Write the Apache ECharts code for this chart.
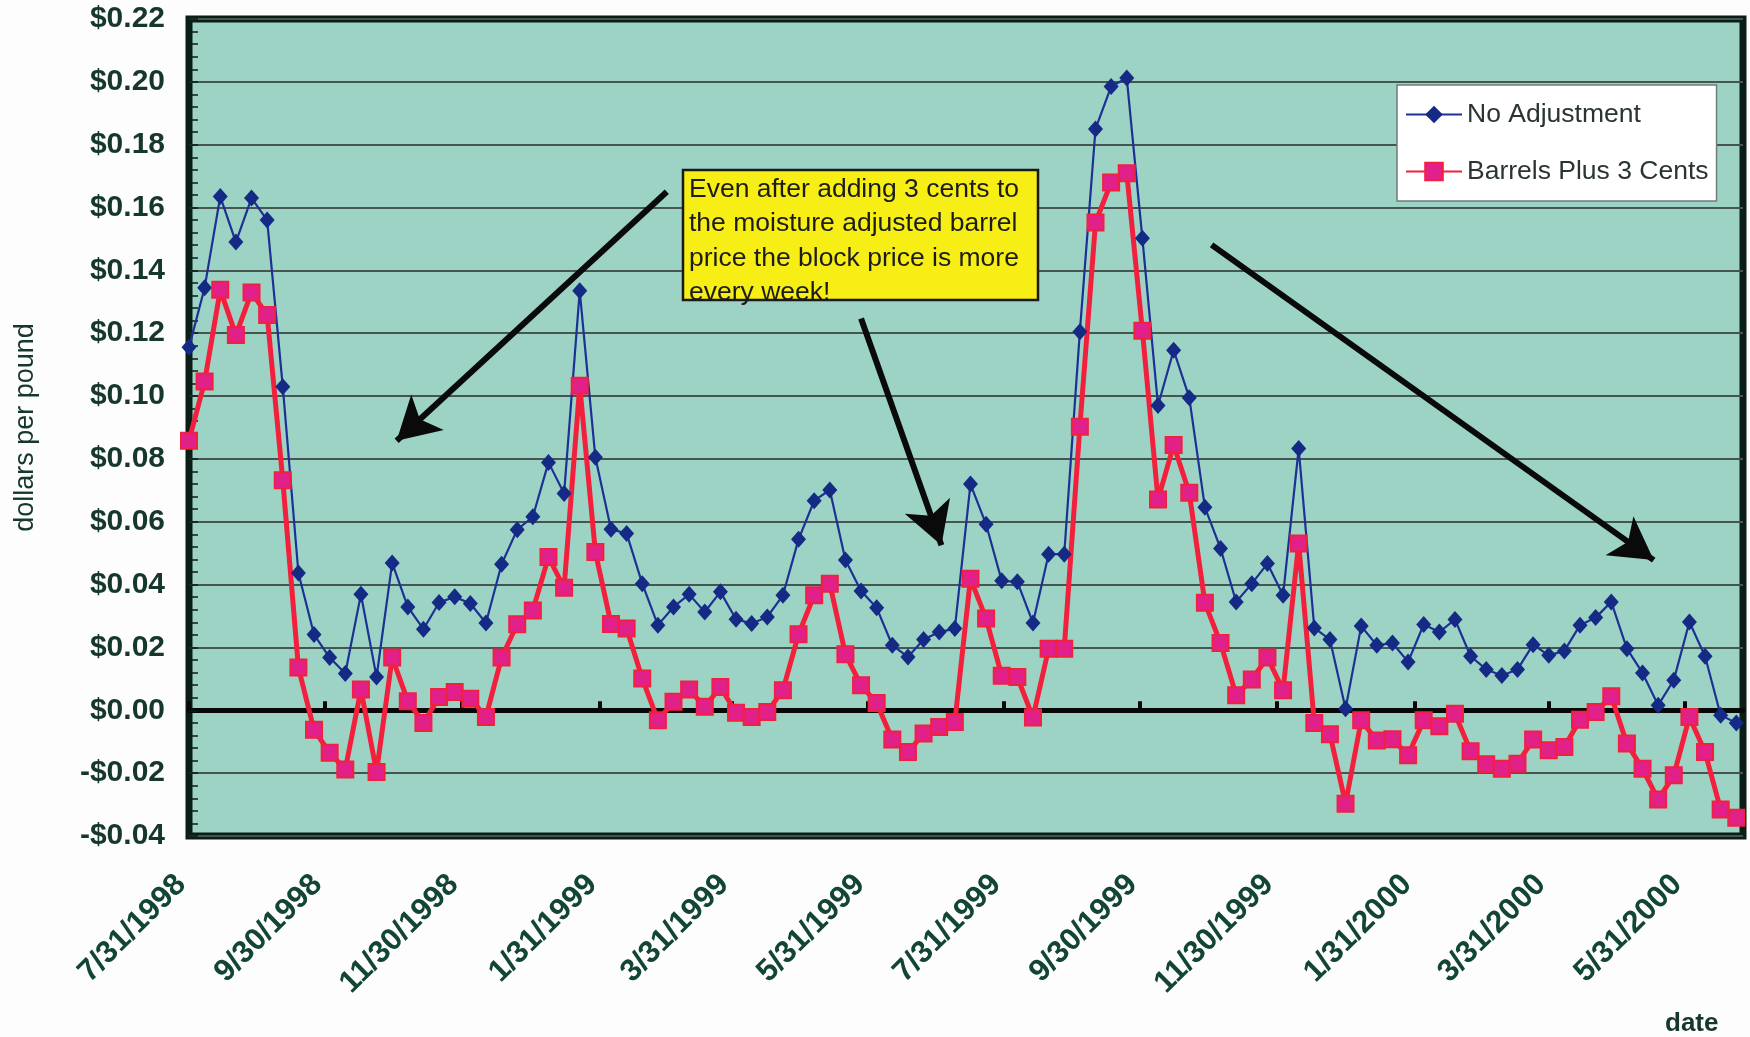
<!DOCTYPE html>
<html>
<head>
<meta charset="utf-8">
<title>Block vs barrel price difference</title>
<script src="https://cdn.jsdelivr.net/npm/echarts@6/dist/echarts.min.js"></script>
<style>
  html, body { margin: 0; padding: 0; background: #fdfdfd; }
  #chart { width: 1750px; height: 1037px; }
</style>
</head>
<body>
<div id="chart"></div>
<script>
// weekly observations starting on this Friday
const firstWeek = '1998-07-31';
const weekCount = 100;

const noAdjustment = [
  0.1155, 0.1345, 0.1635, 0.149, 0.163, 0.156, 0.103, 0.0437, 0.0241, 0.0168,
  0.0117, 0.0369, 0.0106, 0.0469, 0.0329, 0.0258, 0.0343, 0.0361, 0.034, 0.0278,
  0.0465, 0.0575, 0.0616, 0.0789, 0.069, 0.1335, 0.0805, 0.0576, 0.0563, 0.0403,
  0.0271, 0.0329, 0.0369, 0.0313, 0.0377, 0.029, 0.0276, 0.0297, 0.0366, 0.0544,
  0.0667, 0.0701, 0.0478, 0.038, 0.0326, 0.0207, 0.017, 0.0225, 0.0249, 0.026,
  0.072, 0.0592, 0.0412, 0.0409, 0.0278, 0.0497, 0.0497, 0.1205, 0.185, 0.1985,
  0.2012, 0.1502, 0.097, 0.1146, 0.0995, 0.0646, 0.0515, 0.0345, 0.0403, 0.0467,
  0.0366, 0.0833, 0.0262, 0.0225, 0.0005, 0.0268, 0.0207, 0.0214, 0.0154, 0.0273,
  0.0249, 0.0289, 0.0172, 0.013, 0.0111, 0.013, 0.0209, 0.0175, 0.0189, 0.0271,
  0.0295, 0.0345, 0.0196, 0.0119, 0.0016, 0.0096, 0.0281, 0.0172, -0.0016, -0.004
];

const barrelsPlus3 = [
  0.0858, 0.1046, 0.1338, 0.1194, 0.133, 0.1258, 0.0732, 0.0136, -0.0062, -0.0135,
  -0.0188, 0.0066, -0.0196, 0.0168, 0.0029, -0.004, 0.0042, 0.0058, 0.0037, -0.0021,
  0.0168, 0.0274, 0.0318, 0.0488, 0.039, 0.1033, 0.0504, 0.0275, 0.026, 0.0101,
  -0.0032, 0.0027, 0.0066, 0.0011, 0.0074, -0.0008, -0.0021, -0.0005, 0.0064, 0.0242,
  0.0366, 0.0403, 0.0178, 0.008, 0.0023, -0.0093, -0.0133, -0.0074, -0.0053, -0.0037,
  0.0419, 0.0292, 0.011, 0.0106, -0.0023, 0.0196, 0.0196, 0.0902, 0.1552, 0.168,
  0.1709, 0.1208, 0.0671, 0.0844, 0.0692, 0.0342, 0.0214, 0.0048, 0.0098, 0.0168,
  0.0064, 0.0531, -0.004, -0.0076, -0.0297, -0.0032, -0.0096, -0.0092, -0.0143, -0.0032,
  -0.0051, -0.0011, -0.013, -0.0172, -0.0186, -0.017, -0.0093, -0.0127, -0.0117, -0.003,
  -0.0005, 0.0045, -0.0106, -0.0186, -0.0284, -0.0207, -0.0021, -0.0133, -0.0316, -0.0342
];

const tickDates = [
  '1998-07-31', '1998-09-30', '1998-11-30', '1999-01-31', '1999-03-31', '1999-05-31',
  '1999-07-31', '1999-09-30', '1999-11-30', '2000-01-31', '2000-03-31', '2000-05-31'
];

// arrows: [from, to] as [date, value]; the head sits at "to"
const arrows = [
  [['1999-03-02', 0.165], ['1998-11-01', 0.0858]],
  [['1999-05-28', 0.1247], ['1999-07-03', 0.0525]],
  [['1999-11-01', 0.1481], ['2000-05-17', 0.0478]]
];

const noteLines = [
  'Even after adding 3 cents to',
  'the moisture adjusted barrel',
  'price the block price is more',
  'every week!'
];

const DAY = 86400000;
const ink = '#16382b';

function parseDay(str) {
  const [y, m, d] = str.split('-').map(Number);
  return Date.UTC(y, m - 1, d);
}

const start = parseDay(firstWeek);

// x is measured in days since the first week
function dayOffset(str) {
  return Math.round((parseDay(str) - start) / DAY);
}

function formatDate(days) {
  const d = new Date(start + days * DAY);
  return `${d.getUTCMonth() + 1}/${d.getUTCDate()}/${d.getUTCFullYear()}`;
}

function formatDollars(value) {
  if (Math.abs(value) < 1e-9) return '$0.00';
  return (value < 0 ? '-$' : '$') + Math.abs(value).toFixed(2);
}

const weeks = Array.from({ length: weekCount }, (_, i) => i * 7);
const ticks = tickDates.map(dayOffset);
const xMin = 0;
const xMax = 696;

const chart = echarts.init(document.getElementById('chart'), null, { renderer: 'canvas' });

chart.setOption({
  animation: false,
  backgroundColor: '#fdfdfd',
  textStyle: { fontFamily: 'Liberation Sans, Arial, sans-serif' },
  title: {
    text: 'date',
    left: 1660,
    top: 1006,
    textStyle: { fontSize: 26, fontWeight: 'bold', color: ink }
  },
  legend: {
    orient: 'vertical',
    left: 1397,
    top: 85,
    padding: [16, 8, 16, 8],
    itemGap: 30,
    itemWidth: 56,
    itemHeight: 22,
    backgroundColor: '#ffffff',
    borderColor: '#6f7c78',
    borderWidth: 1.5,
    textStyle: { fontSize: 26.5, color: '#2a3532', lineHeight: 26 },
    data: ['No Adjustment', 'Barrels Plus 3 Cents']
  },
  grid: {
    left: 189,
    right: 7,
    top: 19,
    bottom: 201,
    show: true,
    backgroundColor: '#9dd3c5',
    borderColor: '#0b1d17',
    borderWidth: 7
  },
  xAxis: [
    {
      type: 'value',
      min: xMin,
      max: xMax,
      axisLine: { show: false, onZero: false },
      axisTick: { show: false },
      splitLine: { show: false },
      axisLabel: {
        customValues: ticks,
        rotate: 45,
        margin: 36,
        padding: [0, 11, 0, 0],
        fontSize: 31,
        fontWeight: 'bold',
        color: '#124532',
        formatter: formatDate
      }
    },
    {
      type: 'value',
      min: xMin,
      max: xMax,
      position: 'bottom',
      axisLine: { show: true, onZero: true, lineStyle: { color: '#080808', width: 5 } },
      axisTick: {
        show: true,
        inside: true,
        length: 9,
        customValues: ticks,
        lineStyle: { color: '#080808', width: 4 }
      },
      axisLabel: { show: false },
      splitLine: { show: false }
    }
  ],
  yAxis: {
    type: 'value',
    min: -0.04,
    max: 0.22,
    interval: 0.02,
    name: 'dollars per pound',
    nameLocation: 'middle',
    nameRotate: 90,
    nameGap: 150,
    nameTextStyle: { fontSize: 27, color: ink },
    axisLine: { show: false },
    axisTick: { show: true, inside: true, length: 9, lineStyle: { color: '#0b1d17', width: 1.5 } },
    minorTick: { show: true, splitNumber: 5, length: 9, lineStyle: { color: '#0b1d17', width: 1.5 } },
    splitLine: { show: true, lineStyle: { color: '#46554f', width: 1.8 } },
    axisLabel: {
      margin: 24,
      fontSize: 30,
      fontWeight: 'bold',
      color: ink,
      formatter: formatDollars
    }
  },
  series: [
    {
      name: 'No Adjustment',
      type: 'line',
      data: weeks.map((x, i) => [x, noAdjustment[i]]),
      symbol: 'diamond',
      symbolSize: [15, 17],
      lineStyle: { color: '#1d3195', width: 2.2 },
      itemStyle: { color: '#142a84' },
      markLine: {
        silent: true,
        symbol: ['none', 'arrow'],
        symbolSize: [36, 42],
        label: { show: false },
        lineStyle: { color: '#0a0a0a', width: 6, type: 'solid' },
        data: arrows.map(([from, to]) => [
          { coord: [dayOffset(from[0]), from[1]] },
          { coord: [dayOffset(to[0]), to[1]] }
        ])
      }
    },
    {
      name: 'Barrels Plus 3 Cents',
      type: 'line',
      data: weeks.map((x, i) => [x, barrelsPlus3[i]]),
      symbol: 'rect',
      symbolSize: 16,
      lineStyle: { color: '#f2203c', width: 5 },
      itemStyle: { color: '#e2208a', borderColor: '#f2203c', borderWidth: 2 }
    }
  ],
  graphic: [
    {
      type: 'rect',
      z: 50,
      shape: { x: 683, y: 170, width: 355, height: 130 },
      style: { fill: '#f6ee14' }
    },
    {
      type: 'text',
      z: 51,
      x: 689,
      y: 172,
      style: {
        text: noteLines.join('\n'),
        font: '26.5px "Liberation Sans", Arial, sans-serif',
        lineHeight: 34.5,
        fill: '#1c1c1c'
      }
    },
    {
      type: 'rect',
      z: 52,
      shape: { x: 683, y: 170, width: 355, height: 130 },
      style: { fill: 'none', stroke: '#1a1a1a', lineWidth: 2.5 }
    }
  ]
});

window.addEventListener('resize', () => chart.resize());
</script>
</body>
</html>
